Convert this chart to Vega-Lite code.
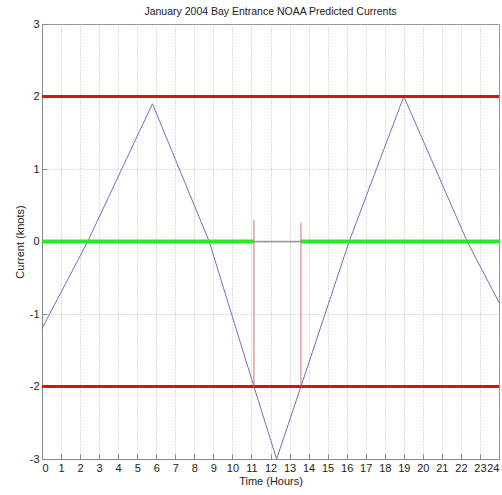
{
  "$schema": "https://vega.github.io/schema/vega-lite/v6.json",
  "width": 457,
  "height": 435,
  "autosize": {"type": "none"},
  "padding": {"left": 42, "top": 24, "right": 3, "bottom": 36},
  "title": {"text": "January 2004 Bay Entrance NOAA Predicted Currents", "font": "Liberation Sans", "fontSize": 10.5, "fontWeight": "normal", "color": "#222", "offset": 1},
  "config": {
    "view": {"stroke": "#888", "strokeWidth": 1},
    "axis": {"labelFont": "Liberation Sans", "titleFont": "Liberation Sans", "labelFontSize": 11, "titleFontSize": 11, "titleFontWeight": "normal", "labelColor": "#222", "titleColor": "#222", "domainColor": "#888", "tickColor": "#888", "tickSize": -5, "gridColor": "#bbb", "gridDash": [1, 2], "gridWidth": 1, "labelExpr": "'' + datum.value"}
  },
  "encoding": {
    "x": {"field": "t", "type": "quantitative", "scale": {"domain": [0, 24], "nice": false}, "axis": {"values": [0,1,2,3,4,5,6,7,8,9,10,11,12,13,14,15,16,17,18,19,20,21,22,23,24], "title": "Time (Hours)", "labelPadding": 8, "titlePadding": 2}},
    "y": {"field": "v", "type": "quantitative", "scale": {"domain": [-3, 3], "nice": false}, "axis": {"values": [-3,-2,-1,0,1,2,3], "title": "Current (knots)", "labelPadding": 8, "titlePadding": 4}}
  },
  "layer": [
    {
      "data": {"values": [{"t": 0, "v": -1.2}, {"t": 2.4, "v": 0}, {"t": 5.8, "v": 1.9}, {"t": 8.78, "v": 0}, {"t": 11.13, "v": -2}, {"t": 12.32, "v": -3.0}, {"t": 13.6, "v": -2}, {"t": 16.13, "v": 0}, {"t": 19.0, "v": 2.0}, {"t": 22.33, "v": 0}, {"t": 24, "v": -0.84}]},
      "mark": {"type": "line", "color": "#7070c0", "strokeWidth": 1}
    },
    {
      "data": {"values": [{"t": 0, "t2": 24, "v": 2}, {"t": 0, "t2": 24, "v": -2}]},
      "mark": {"type": "rule", "color": "#e01010", "strokeWidth": 3},
      "encoding": {"x2": {"field": "t2"}}
    },
    {
      "data": {"values": [{"t": 0, "t2": 11.13, "v": 0}, {"t": 13.6, "t2": 24, "v": 0}]},
      "mark": {"type": "rule", "color": "#22ee22", "strokeWidth": 4},
      "encoding": {"x2": {"field": "t2"}}
    },
    {
      "data": {"values": [{"t": 11.13, "t2": 13.6, "v": 0}]},
      "mark": {"type": "rule", "color": "#999999", "strokeWidth": 1.5},
      "encoding": {"x2": {"field": "t2"}}
    },
    {
      "data": {"values": [{"t": 11.13, "v": -2, "v2": 0.3}, {"t": 13.6, "v": -2, "v2": 0.26}]},
      "mark": {"type": "rule", "color": "#d07070", "strokeWidth": 1},
      "encoding": {"y2": {"field": "v2"}}
    }
  ]
}
